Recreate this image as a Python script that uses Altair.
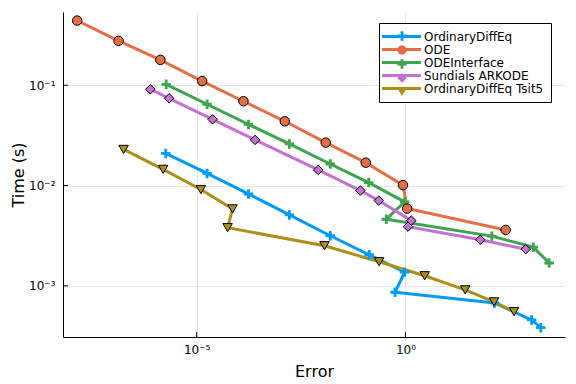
import altair as alt
import pandas as pd

names = ["OrdinaryDiffEq", "ODE", "ODEInterface", "Sundials ARKODE", "OrdinaryDiffEq Tsit5"]
colors = ["#009AFA", "#E36F47", "#3EA44E", "#C371D2", "#AC8E18"]
CROSS = "M-0.3,-1H0.3V-0.3H1V0.3H0.3V1H-0.3V0.3H-1V-0.3H-0.3Z"
shapes = [CROSS, "circle", CROSS, "diamond", "triangle-down"]
outlined = [False, True, False, True, True]

# OrdinaryDiffEq
ode_jl_err = [1.82e-6, 1.78e-5, 1.74e-4, 1.66e-3, 0.0158, 0.135, 0.955, 0.562, 135, 1047, 1738]
ode_jl_time = [0.0209, 0.0132, 0.00824, 0.00509, 0.00316, 0.00204, 0.00137, 0.000863, 0.000676, 0.000457, 0.000383]
# ODE
ode_err = [1.38e-8, 1.35e-7, 1.35e-6, 1.35e-5, 1.32e-4, 1.29e-3, 0.0123, 0.112, 0.871, 1.10, 251]
ode_time = [0.441, 0.277, 0.179, 0.110, 0.0692, 0.0437, 0.0268, 0.0169, 0.0101, 0.00589, 0.00361]
# ODEInterface
odei_err = [1.86e-6, 1.78e-5, 1.74e-4, 1.66e-3, 0.0158, 0.132, 0.955, 0.347, 117, 1148, 2754]
odei_time = [0.102, 0.0646, 0.0407, 0.0260, 0.0164, 0.0107, 0.00687, 0.00461, 0.00313, 0.00243, 0.00169]
# Sundials ARKODE
ark_err = [7.76e-7, 2.19e-6, 2.40e-5, 2.51e-4, 8.13e-3, 0.0832, 0.229, 1.38, 1.15, 61.7, 759]
ark_time = [0.0912, 0.0741, 0.0457, 0.0285, 0.0143, 0.00891, 0.00708, 0.00447, 0.00389, 0.00288, 0.00232]
# OrdinaryDiffEq Tsit5
tsit_err = [1.78e-7, 1.58e-6, 1.26e-5, 7.24e-5, 5.50e-5, 0.0115, 0.234, 2.88, 26.9, 132, 398]
tsit_time = [0.0229, 0.0145, 0.00912, 0.00585, 0.00380, 0.00251, 0.00174, 0.00126, 0.000912, 0.000692, 0.000553]

series_err = [ode_jl_err, ode_err, odei_err, ark_err, tsit_err]
series_time = [ode_jl_time, ode_time, odei_time, ark_time, tsit_time]

x_tick_values = [1e-5, 1]
x_tick_labels = ["10⁻⁵", "10⁰"]
y_tick_values = [1e-3, 1e-2, 1e-1]
y_tick_labels = ["10⁻³", "10⁻²", "10⁻¹"]

keys = ["m" + str(i) for i in range(len(names))]

rows = []
for i, name in enumerate(names):
    for j, (e, t) in enumerate(zip(series_err[i], series_time[i])):
        rows.append({"series": name, "key": keys[i], "idx": j, "err": e, "time": t,
                     "outlined": outlined[i]})
df = pd.DataFrame(rows)


def label_expr(values, labels):
    expr = "''"
    for v, lab in reversed(list(zip(values, labels))):
        expr = f"abs(datum.value/{v} - 1) < 0.01 ? '{lab}' : ({expr})"
    return expr


FONT = "DejaVu Sans"
W, H = 502, 325

xscale = alt.Scale(type="log", domain=[6.3e-9, 6600], nice=False)
yscale = alt.Scale(type="log", domain=[3.09e-4, 0.537], nice=False)

xaxis = alt.Axis(values=x_tick_values, labelExpr=label_expr(x_tick_values, x_tick_labels),
                 tickSize=0, labelPadding=7, title="Error", titlePadding=8)
yaxis = alt.Axis(values=y_tick_values, labelExpr=label_expr(y_tick_values, y_tick_labels),
                 tickSize=0, labelPadding=8, title="Time (s)", titlePadding=2)

common_legend = dict(orient="none", legendX=316, legendY=11, title=None, labelFontSize=12,
                     labelFont=FONT, padding=7, rowPadding=0, labelLimit=0)

legend_lines = alt.Legend(symbolType="M-3.9,0H3.9", symbolSize=100, symbolStrokeWidth=3,
                          symbolOffset=9, labelOffset=16,
                          strokeColor="black", fillColor="white", labelColor="black", zindex=1,
                          **common_legend)
legend_marks = alt.Legend(symbolSize=90, symbolStrokeWidth=1, symbolStrokeColor="black",
                          symbolOffset=10, labelOffset=18, labelExpr="' '", symbolOpacity=1,
                          zindex=2, **common_legend)

lines = alt.Chart(df).mark_line(strokeWidth=3, clip=True).encode(
    x=alt.X("err:Q", scale=xscale, axis=xaxis),
    y=alt.Y("time:Q", scale=yscale, axis=yaxis),
    stroke=alt.Stroke("series:N", scale=alt.Scale(domain=names, range=colors), legend=legend_lines),
    order="idx:Q",
)

fill_enc = alt.Fill("key:N", scale=alt.Scale(domain=keys, range=colors), legend=legend_marks)
shape_enc = alt.Shape("key:N", scale=alt.Scale(domain=keys, range=shapes), legend=legend_marks)

pts_plain = alt.Chart(df).transform_filter("!datum.outlined").mark_point(
    filled=True, size=90, strokeWidth=0, opacity=1, clip=True).encode(
    x=alt.X("err:Q", scale=xscale, axis=xaxis),
    y=alt.Y("time:Q", scale=yscale, axis=yaxis),
    fill=fill_enc, shape=shape_enc, order="idx:Q",
)
pts_outl = alt.Chart(df).transform_filter("datum.outlined").mark_point(
    filled=True, size=90, stroke="black", strokeWidth=1, opacity=1, clip=True).encode(
    x=alt.X("err:Q", scale=xscale, axis=xaxis),
    y=alt.Y("time:Q", scale=yscale, axis=yaxis),
    fill=fill_enc, shape=shape_enc, order="idx:Q",
)

xt = pd.DataFrame({"err": x_tick_values})
yt = pd.DataFrame({"time": y_tick_values})
xticks = alt.Chart(xt).mark_rule(color="black", strokeWidth=1).encode(
    x=alt.X("err:Q", scale=xscale, axis=xaxis), y=alt.value(H), y2=alt.value(H - 5))
yticks = alt.Chart(yt).mark_rule(color="black", strokeWidth=1).encode(
    y=alt.Y("time:Q", scale=yscale, axis=yaxis), x=alt.value(0), x2=alt.value(5))

chart = alt.layer(lines, pts_plain, pts_outl, xticks, yticks).properties(
    width=W, height=H, autosize="none",
    padding={"left": 55, "top": 4, "right": 3, "bottom": 47},
    background="white",
).configure_view(stroke=None).configure_axis(
    labelFont=FONT, titleFont=FONT, labelFontSize=12, titleFontSize=16, titleFontWeight="normal",
    labelColor="black", titleColor="black", domainColor="black", domainWidth=1,
    gridColor="#e6e6e6", gridWidth=1,
)

chart.save("out.html", embed_options={"renderer": "svg", "actions": False})
